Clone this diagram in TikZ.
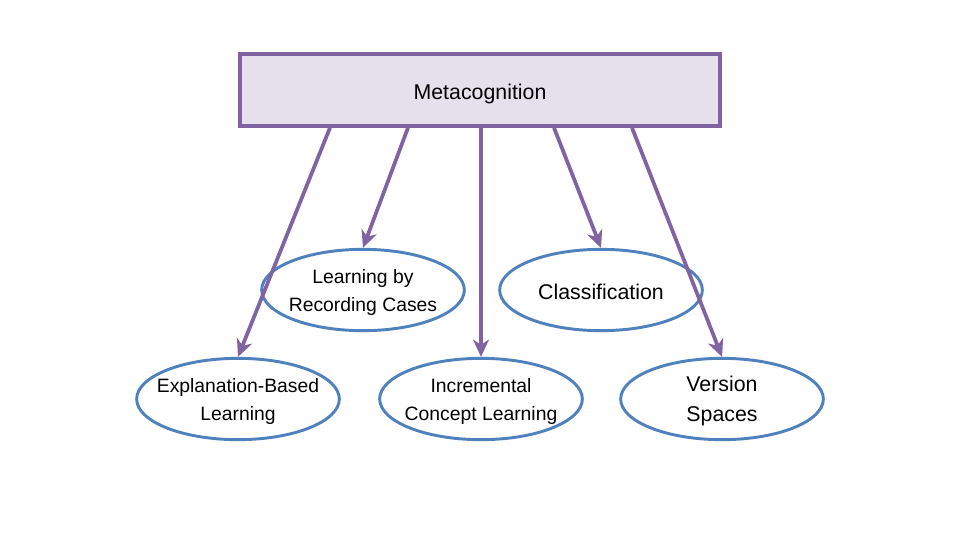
\documentclass[tikz,border=0pt]{standalone}
\usepackage{fontspec}
\setmainfont{Liberation Sans}
\usetikzlibrary{shapes.geometric,arrows.meta}
\definecolor{boxfill}{HTML}{E6E0EC}
\definecolor{boxline}{HTML}{8064A2}
\definecolor{ellline}{HTML}{4F81BD}
\begin{document}
\begin{tikzpicture}[x=0.75pt,y=-0.75pt,
  topbox/.style={draw=boxline,fill=boxfill,line width=2.6pt,minimum width=360pt,minimum height=54pt,inner sep=0pt},
  oval/.style={ellipse,draw=ellline,line width=2.2pt,minimum width=152pt,minimum height=61pt,inner sep=0pt},
  small/.style={align=center,inner sep=0pt,yshift=-1.5pt,font=\fontsize{14.5}{21}\selectfont},
  big/.style={align=center,inner sep=0pt,yshift=-1.5pt,font=\fontsize{16}{22.5}\selectfont},
  link/.style={draw=boxline,line width=2.8pt,-{Stealth[length=13pt,width=12pt,inset=4pt]}}]
\useasboundingbox (0,0) rectangle (960,540);
\node[topbox,label={[big,yshift=-1.5pt]center:Metacognition}] (meta) at (480,90) {};
\node[oval,label={[small]center:Learning by\\Recording Cases}] (lrc) at (363,290) {};
\node[oval,label={[big]center:Classification}] (cls) at (601,290) {};
\node[oval,label={[small]center:Explanation-Based\\Learning}] (ebl) at (238,399) {};
\node[oval,label={[small]center:Incremental\\Concept Learning}] (icl) at (481,399) {};
\node[oval,label={[big]center:Version\\Spaces}] (vs) at (722,399) {};
\draw[link] ([xshift=-112.5pt]meta.south) -- (ebl.north);
\draw[link] ([xshift=-54pt]meta.south) -- (lrc.north);
\draw[link] ([xshift=0.75pt]meta.south) -- (icl.north);
\draw[link] ([xshift=55.5pt]meta.south) -- (cls.north);
\draw[link] ([xshift=114pt]meta.south) -- (vs.north);
\end{tikzpicture}
\end{document}
